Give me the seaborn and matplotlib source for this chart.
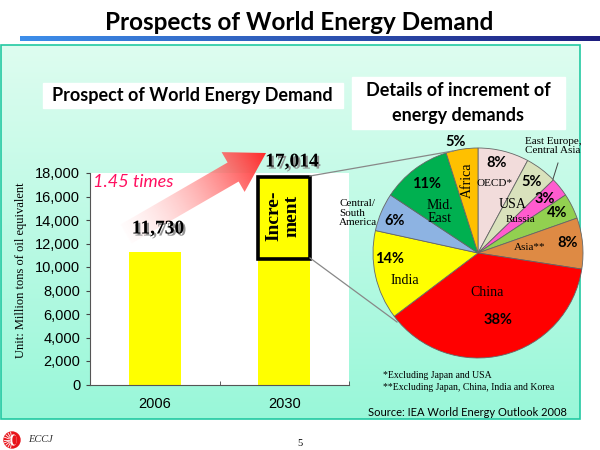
import numpy as np
import matplotlib
matplotlib.use("Agg")
import matplotlib.pyplot as plt
import seaborn as sns
from matplotlib.patches import Rectangle, Polygon, Circle, Ellipse
import matplotlib.patheffects as pe

# ---------------- data ----------------
years = ["2006", "2030"]
base_demand = [11290, 10720]          # bar heights as drawn (Mtoe)
increment = [0, 6900]                  # increment box on 2030 bar
value_labels = ["11,730", "17,014"]
yticks = [0, 2000, 4000, 6000, 8000, 10000, 12000, 14000, 16000, 18000]

regions = ["OECD*", "USA", "East Europe, Central Asia", "Russia", "Asia**",
           "China", "India", "Central/South America", "Mid. East", "Africa"]
shares = [8, 5, 3, 4, 8, 38, 14, 6, 11, 5]
share_labels = ["8%", "5%", "3%", "4%", "8%", "38%", "14%", "6%", "11%", "5%"]
pie_colors = ["#F2DCDB", "#D9E2BC", "#FF5BCF", "#92D050", "#DE8A44",
              "#FF0000", "#FFFF00", "#8DB3E2", "#00B050", "#FFC000"]

SANS = ["Lato", "DejaVu Sans"]
ARIAL = ["Liberation Sans", "DejaVu Sans"]
SERIF = ["Liberation Serif", "DejaVu Serif"]

fig = plt.figure(figsize=(6, 4.5), dpi=100)
fig.patch.set_facecolor("white")

def px_axes(x0, y0, x1, y1, **kw):
    return fig.add_axes([x0 / 600, (450 - y1) / 450, (x1 - x0) / 600, (y1 - y0) / 450], **kw)

# ---------------- background panel ----------------
bg = fig.add_axes([0, 0, 1, 1], zorder=0)
bg.set_xlim(0, 600); bg.set_ylim(450, 0); bg.axis("off")
top_c = np.array([0.87, 0.99, 0.94]); bot_c = np.array([0.60, 0.97, 0.85])
g = np.linspace(0, 1, 256)[:, None, None]
grad = top_c * (1 - g) + bot_c * g
grad = np.repeat(grad, 2, axis=1)
bg.imshow(grad, extent=(1, 580, 419, 45), aspect="auto", origin="upper", zorder=0)
bg.add_patch(Rectangle((1, 45), 579, 374, fill=False, edgecolor="#22C9A2", lw=1.2, zorder=1))
# title rule
bl = np.linspace(0, 1, 256)[None, :, None]
c1 = np.array([0.24, 0.56, 0.92]); c2 = np.array([0.12, 0.12, 0.50])
rule = c1 * (1 - bl) + c2 * bl
rule = np.repeat(rule, 2, axis=0)
bg.imshow(rule, extent=(20, 600, 41, 36), aspect="auto", origin="upper", zorder=1)
# white label boxes
bg.add_patch(Rectangle((43, 83), 300, 25, color="white", zorder=2))
bg.add_patch(Rectangle((352, 77), 213, 52, color="white", zorder=2))
bg.set_xlim(0, 600); bg.set_ylim(450, 0)

# ---------------- bar chart ----------------
ax = px_axes(90, 173, 349, 384.5, zorder=1)
sns.barplot(x=years, y=base_demand, color="#FFFF00", saturation=1, width=0.4,
            linewidth=0, ax=ax)
ax.bar([1], [increment[1]], bottom=[base_demand[1]], width=0.4, color="#FFFF00",
       edgecolor="black", linewidth=2.6, zorder=3)
ax.set_xlim(-0.5, 1.5)
ax.set_ylim(0, 18000)
ax.set_yticks(yticks)
ax.set_yticklabels([f"{v:,}" for v in yticks], fontsize=10.5, family=ARIAL)
ax.set_xticks([0, 1])
ax.set_xticklabels(years, fontsize=10.5, family=ARIAL)
ax.set_xticks([-0.5, 0.5, 1.5], minor=True)
ax.tick_params(axis="x", which="major", length=0, pad=9)
ax.tick_params(axis="x", which="minor", direction="in", length=3, color="#444")
ax.tick_params(axis="y", length=3, color="#444", pad=4)
for s in ["top", "right"]:
    ax.spines[s].set_visible(False)
for s in ["left", "bottom"]:
    ax.spines[s].set_color("#555")
    ax.spines[s].set_linewidth(0.8)
ax.set_xlabel(""); ax.set_ylabel("")
ax.set_facecolor("white")

# ---------------- pie chart ----------------
pax = px_axes(373, 148, 583, 358, zorder=1)
wedges, _ = pax.pie(shares, colors=pie_colors, startangle=90, counterclock=False,
                    wedgeprops=dict(edgecolor="#666666", linewidth=0.6))
for w in wedges:
    w.set_clip_on(False)
pax.set_xlim(-1, 1); pax.set_ylim(-1, 1)

# ---------------- overlay ----------------
ov = fig.add_axes([0, 0, 1, 1], zorder=5)
ov.patch.set_alpha(0)
ov.axis("off")

# gradient arrow
tail = np.array([126.0, 234.0]); tip = np.array([266.0, 153.0])
d = tip - tail; L = np.hypot(*d); u = d / L; n = np.array([-u[1], u[0]])
hl, hw, sw = 38, 46, 22
hb = tip - u * hl
poly = [tail + n * sw / 2, hb + n * sw / 2, hb + n * hw / 2, tip,
        hb - n * hw / 2, hb - n * sw / 2, tail - n * sw / 2]
arrow = Polygon(poly, closed=True, facecolor="none", edgecolor="none")
ov.add_patch(arrow)
yy, xx = np.mgrid[0:450, 0:600] + 0.5
t = np.clip(((xx - tail[0]) * u[0] + (yy - tail[1]) * u[1]) / L, 0, 1)
rgba = np.zeros((450, 600, 4))
rgba[..., 0] = 1.0
rgba[..., 1] = 0.97 * (1 - t) + 0.16 * t
rgba[..., 2] = 0.97 * (1 - t) + 0.16 * t
rgba[..., 3] = 0.3 + 0.7 * t
im = ov.imshow(rgba, extent=(0, 600, 450, 0), origin="upper", aspect="auto", zorder=2)
im.set_clip_path(arrow)
ov.set_xlim(0, 600); ov.set_ylim(450, 0)

# connector lines
ov.plot([310, 453], [176, 151], color="#888888", lw=0.9, zorder=1)
ov.plot([310, 397], [258, 322], color="#888888", lw=0.9, zorder=1)

def txt(x, y, s, **kw):
    ov.text(x, y, s, ha=kw.pop("ha", "center"), va=kw.pop("va", "center"), **kw)

# titles
txt(299, 23, "Prospects of World Energy Demand", fontsize=17.5, fontweight="bold", family=SANS)
txt(192, 96, "Prospect of World Energy Demand", fontsize=13, fontweight="bold", family=SANS)
txt(458, 90, "Details of increment of", fontsize=13, fontweight="bold", family=SANS)
txt(458, 115, "energy demands", fontsize=13, fontweight="bold", family=SANS)

# y label
txt(21, 270, "Unit: Million tons of oil equivalent", fontsize=9, rotation=90, family=SERIF)

# ratio
txt(93, 182, "1.45 times", ha="left", fontsize=13, style="italic", color="#FF1060", family=SANS)

# value labels with shadow
shadow = [pe.SimplePatchShadow(offset=(1.5, -1.5), shadow_rgbFace="#8a8a8a", alpha=0.9), pe.Normal()]
for (x, y), s in zip([(158, 229), (292, 162)], value_labels):
    ov.text(x, y, s, ha="center", va="center", fontsize=14, fontweight="bold",
            family=SERIF, color="black", zorder=4, path_effects=shadow)

txt(283, 216, "Incre-\nment", fontsize=14, fontweight="bold", family=SERIF, rotation=90,
    linespacing=1.1, zorder=4)

# pie labels
pct_pos = [(497, 163), (532, 182), (545, 199), (557, 213), (568, 243),
           (498, 320), (390, 259), (395, 221), (427, 184), (456, 142)]
for (x, y), s in zip(pct_pos, share_labels):
    txt(x, y, s, fontsize=10.5, fontweight="bold", family=SANS, zorder=4)

serif_kw = dict(family=SERIF, zorder=4)
txt(495, 183, "OECD*", fontsize=8, **serif_kw)
txt(513, 204, "USA", fontsize=10, **serif_kw)
txt(520, 220, "Russia", fontsize=8, **serif_kw)
txt(530, 248, "Asia**", fontsize=8, **serif_kw)
txt(487, 293, "China", fontsize=10, **serif_kw)
txt(405, 280, "India", fontsize=10, **serif_kw)
txt(440, 212, "Mid.\nEast", fontsize=10, linespacing=1.0, **serif_kw)
txt(467, 180, "Africa", fontsize=10, rotation=90, **serif_kw)
txt(339, 213, "Central/\nSouth\nAmerica", ha="left", fontsize=8, linespacing=1.05, **serif_kw)
txt(553, 146, "East Europe,\nCentral Asia", fontsize=8, linespacing=1.1, **serif_kw)
ov.plot([558, 553], [163, 179], color="#444444", lw=0.7, zorder=4)

# footnotes
txt(383, 376, "*Excluding Japan and USA", ha="left", fontsize=7, **serif_kw)
txt(383, 387, "**Excluding Japan, China, India and Korea", ha="left", fontsize=7, **serif_kw)
txt(467, 412, "Source: IEA World Energy Outlook 2008", fontsize=8, family=SANS)

# footer
ov.add_patch(Circle((12, 440), 8, color="#E8141B", zorder=3))
for ang in np.linspace(100, 260, 9):
    a = np.deg2rad(ang)
    ov.plot([12 + 3 * np.cos(a), 12 + 8 * np.cos(a)], [440 - 3 * np.sin(a), 440 - 8 * np.sin(a)],
            color="white", lw=0.6, zorder=4)
ov.add_patch(Ellipse((13.5, 440), 5, 10, color="white", zorder=4))
ov.add_patch(Ellipse((14.5, 440), 3, 8, color="#E8141B", zorder=5))
txt(28, 440, "ECCJ", ha="left", fontsize=7.5, style="italic", family=SERIF, color="#333333")
txt(300, 443, "5", fontsize=7.5, family=SERIF)

ov.set_xlim(0, 600); ov.set_ylim(450, 0)
fig.savefig("out.png", dpi=100)
